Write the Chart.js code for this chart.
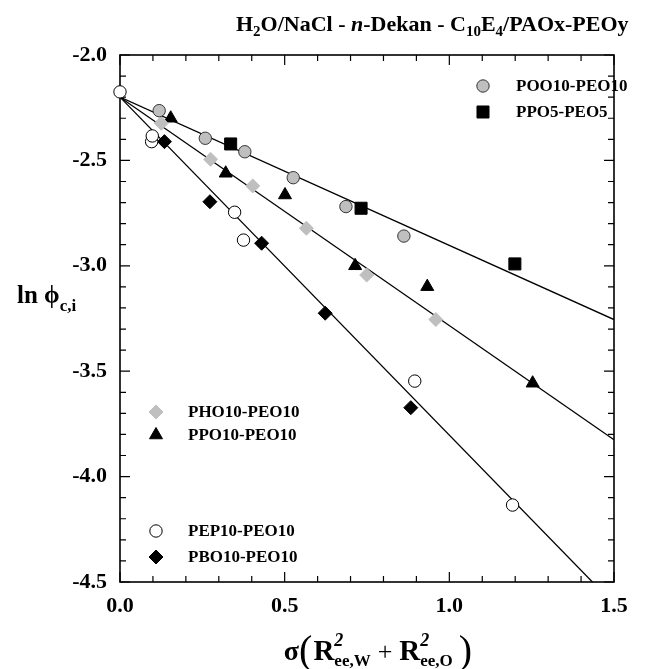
<!DOCTYPE html>
<html>
<head>
<meta charset="utf-8">
<script src="https://cdn.jsdelivr.net/npm/chart.js@4.4.1/dist/chart.umd.min.js"></script>
<style>
  html, body { margin: 0; padding: 0; background: #ffffff; }
  #wrap { width: 668px; height: 669px; position: relative; }
</style>
</head>
<body>
<div id="wrap"><canvas id="chart"></canvas></div>
<script>
// Axis tick labels
const xTickValues = [0.0, 0.5, 1.0, 1.5];
const yTickValues = [-2.0, -2.5, -3.0, -3.5, -4.0, -4.5];

// POO10-PEO10 (grey circles)
const pooX = [0.119, 0.259, 0.379, 0.526, 0.686, 0.862];
const pooY = [-2.264, -2.395, -2.459, -2.582, -2.719, -2.859];

// PPO5-PEO5 (black squares)
const ppo5X = [0.336, 0.732, 1.199];
const ppo5Y = [-2.422, -2.727, -2.991];

// PHO10-PEO10 (grey diamonds)
const phoX = [0.125, 0.275, 0.403, 0.566, 0.749, 0.959];
const phoY = [-2.324, -2.495, -2.621, -2.822, -3.044, -3.255];

// PPO10-PEO10 (black triangles)
const ppo10X = [0.154, 0.321, 0.501, 0.714, 0.933, 1.253];
const ppo10Y = [-2.300, -2.561, -2.664, -3.000, -3.099, -3.557];

// PEP10-PEO10 (open circles)
const pepX = [0.000, 0.096, 0.098, 0.348, 0.375, 0.895, 1.192];
const pepY = [-2.175, -2.411, -2.384, -2.746, -2.878, -3.547, -4.135];

// PBO10-PEO10 (black diamonds)
const pboX = [0.135, 0.273, 0.430, 0.623, 0.883];
const pboY = [-2.411, -2.696, -2.893, -3.225, -3.673];

// Linear fits (start and end points)
const fitSlowX = [0.0, 1.5];
const fitSlowY = [-2.20, -3.255];
const fitMidX = [0.0, 1.5];
const fitMidY = [-2.20, -3.825];
const fitFastX = [0.0, 1.5];
const fitFastY = [-2.20, -4.605];

const SERIF = '"Liberation Serif", "Times New Roman", serif';
const GREY = '#bfbfbf';

const pts = (xs, ys) => xs.map((v, i) => ({ x: v, y: ys[i] }));

function markerSet(label, xs, ys, style, radius, fill, stroke) {
  return {
    type: 'scatter', label, data: pts(xs, ys),
    pointStyle: style, pointRadius: radius, pointHoverRadius: radius,
    backgroundColor: fill, borderColor: stroke, pointBorderWidth: 1,
    clip: false
  };
}
function fitLine(xs, ys) {
  return {
    type: 'line', label: '', data: pts(xs, ys),
    borderColor: '#000', borderWidth: 1.3, pointRadius: 0,
    fill: false, tension: 0
  };
}

const datasets = [
  markerSet('POO10-PEO10', pooX, pooY, 'circle', 6.2, GREY, '#333'),
  markerSet('PPO5-PEO5', ppo5X, ppo5Y, 'rect', 8.5, '#000', '#000'),
  markerSet('PHO10-PEO10', phoX, phoY, 'rectRot', 7, GREY, GREY),
  markerSet('PPO10-PEO10', ppo10X, ppo10Y, 'triangle', 7.5, '#000', '#000'),
  markerSet('PEP10-PEO10', pepX, pepY, 'circle', 6.2, '#fff', '#000'),
  markerSet('PBO10-PEO10', pboX, pboY, 'rectRot', 7, '#000', '#000'),
  fitLine(fitSlowX, fitSlowY),
  fitLine(fitMidX, fitMidY),
  fitLine(fitFastX, fitFastY)
];

function drawMarker(ctx, ds, x, y) {
  ctx.save();
  ctx.fillStyle = ds.backgroundColor;
  ctx.strokeStyle = ds.borderColor;
  ctx.lineWidth = ds.pointBorderWidth;
  Chart.helpers.drawPoint(ctx, {
    pointStyle: ds.pointStyle, radius: ds.pointRadius,
    rotation: 0, borderWidth: ds.pointBorderWidth
  }, x, y);
  ctx.restore();
}

// Width of a run of text pieces.
function richWidth(ctx, parts) {
  let w = 0;
  for (const p of parts) {
    ctx.font = p.font;
    if (!p.stack) w += ctx.measureText(p.t).width + (p.dx || 0);
  }
  return w;
}
// Draws a run of text pieces with their own font / vertical offset.
function drawRich(ctx, x, y, parts) {
  let cx = x;
  for (const p of parts) {
    ctx.font = p.font;
    ctx.fillText(p.t, cx, y + (p.dy || 0));
    const w = ctx.measureText(p.t).width;
    if (!p.stack) cx += w + (p.dx || 0);
  }
  return cx;
}

const framePlugin = {
  id: 'frame',
  beforeDatasetsDraw(chart) {
    const { ctx, chartArea: a, scales } = chart;
    ctx.save();
    ctx.strokeStyle = '#000';
    ctx.lineWidth = 1.6;
    ctx.strokeRect(a.left, a.top, a.right - a.left, a.bottom - a.top);
    ctx.lineWidth = 1.2;
    ctx.beginPath();
    for (let i = 0; i <= 15; i++) {
      const px = scales.x.getPixelForValue(i / 10);
      const len = i % 5 === 0 ? 10 : 6;
      ctx.moveTo(px, a.bottom); ctx.lineTo(px, a.bottom - len);
      ctx.moveTo(px, a.top); ctx.lineTo(px, a.top + len);
    }
    for (let i = 20; i <= 45; i++) {
      const py = scales.y.getPixelForValue(-i / 10);
      const len = i % 5 === 0 ? 10 : 6;
      ctx.moveTo(a.left, py); ctx.lineTo(a.left + len, py);
      ctx.moveTo(a.right, py); ctx.lineTo(a.right - len, py);
    }
    ctx.stroke();
    ctx.restore();
  }
};

const legendPlugin = {
  id: 'keys',
  afterDraw(chart) {
    const { ctx } = chart;
    const entries = [
      [0, 483, 86, 516], [1, 483, 112, 516],
      [2, 156, 412, 188], [3, 156, 435, 188],
      [4, 156, 531, 188], [5, 156, 557, 188]
    ];
    ctx.save();
    ctx.textBaseline = 'middle';
    ctx.font = 'bold 17px ' + SERIF;
    for (const [idx, mx, my, tx] of entries) {
      const ds = chart.data.datasets[idx];
      drawMarker(ctx, ds, mx, my);
      ctx.fillStyle = '#000';
      ctx.font = 'bold 17px ' + SERIF;
      ctx.fillText(ds.label, tx, my + 1);
    }
    ctx.restore();
  }
};

const textPlugin = {
  id: 'texts',
  afterDraw(chart) {
    const { ctx } = chart;
    ctx.save();
    ctx.fillStyle = '#000';
    ctx.textBaseline = 'alphabetic';
    const B = s => 'bold ' + s + 'px ' + SERIF;
    const BI = s => 'italic bold ' + s + 'px ' + SERIF;

    // Title
    drawRich(ctx, 236, 31, [
      { t: 'H', font: B(22) }, { t: '2', font: B(15), dy: 5 },
      { t: 'O/NaCl - ', font: B(22) }, { t: 'n', font: BI(22) },
      { t: '-Dekan - C', font: B(22) }, { t: '10', font: B(15), dy: 5 },
      { t: 'E', font: B(22) }, { t: '4', font: B(15), dy: 5 },
      { t: '/PAOx-PEOy', font: B(22) }
    ]);

    // y-axis title
    drawRich(ctx, 17, 303, [
      { t: 'ln ', font: B(25) }, { t: 'ϕ', font: B(25) },
      { t: 'c,i', font: B(17), dy: 8 }
    ]);

    // x-axis title
    const xt = [
      { t: 'σ', font: B(28) }, { t: '(', font: '40px ' + SERIF, dy: 3, dx: 1 },
      { t: 'R', font: B(29) },
      { t: '2', font: BI(18), dy: -14, stack: true },
      { t: 'ee,W', font: B(17), dy: 6, dx: 7 },
      { t: '+', font: '26px ' + SERIF, dx: 7 },
      { t: 'R', font: B(29) },
      { t: '2', font: BI(18), dy: -14, stack: true },
      { t: 'ee,O', font: B(17), dy: 6, dx: 6 },
      { t: ')', font: '40px ' + SERIF, dy: 3 }
    ];
    drawRich(ctx, 378 - richWidth(ctx, xt) / 2, 660, xt);
    ctx.restore();
  }
};

new Chart(document.getElementById('chart'), {
  type: 'scatter',
  data: { datasets },
  options: {
    responsive: true,
    maintainAspectRatio: false,
    animation: false,
    events: [],
    layout: { padding: { left: 0, top: 55, right: 54, bottom: 0 } },
    plugins: { legend: { display: false }, tooltip: { enabled: false }, title: { display: false } },
    scales: {
      x: {
        type: 'linear', min: 0, max: 1.5,
        afterBuildTicks: s => { s.ticks = xTickValues.map(v => ({ value: v })); },
        afterFit: s => { s.height = 87; },
        grid: { drawOnChartArea: false, drawTicks: false },
        border: { display: false },
        ticks: {
          padding: 11, color: '#000',
          font: { family: SERIF, size: 22, weight: 'bold' },
          callback: v => Number(v).toFixed(1)
        }
      },
      y: {
        type: 'linear', min: -4.5, max: -2.0,
        afterBuildTicks: s => { s.ticks = yTickValues.map(v => ({ value: v })); },
        afterFit: s => { s.width = 120; },
        grid: { drawOnChartArea: false, drawTicks: false },
        border: { display: false },
        ticks: {
          padding: 13, color: '#000',
          font: { family: SERIF, size: 22, weight: 'bold' },
          callback: v => Number(v).toFixed(1)
        }
      }
    }
  },
  plugins: [framePlugin, legendPlugin, textPlugin]
});
</script>
</body>
</html>
